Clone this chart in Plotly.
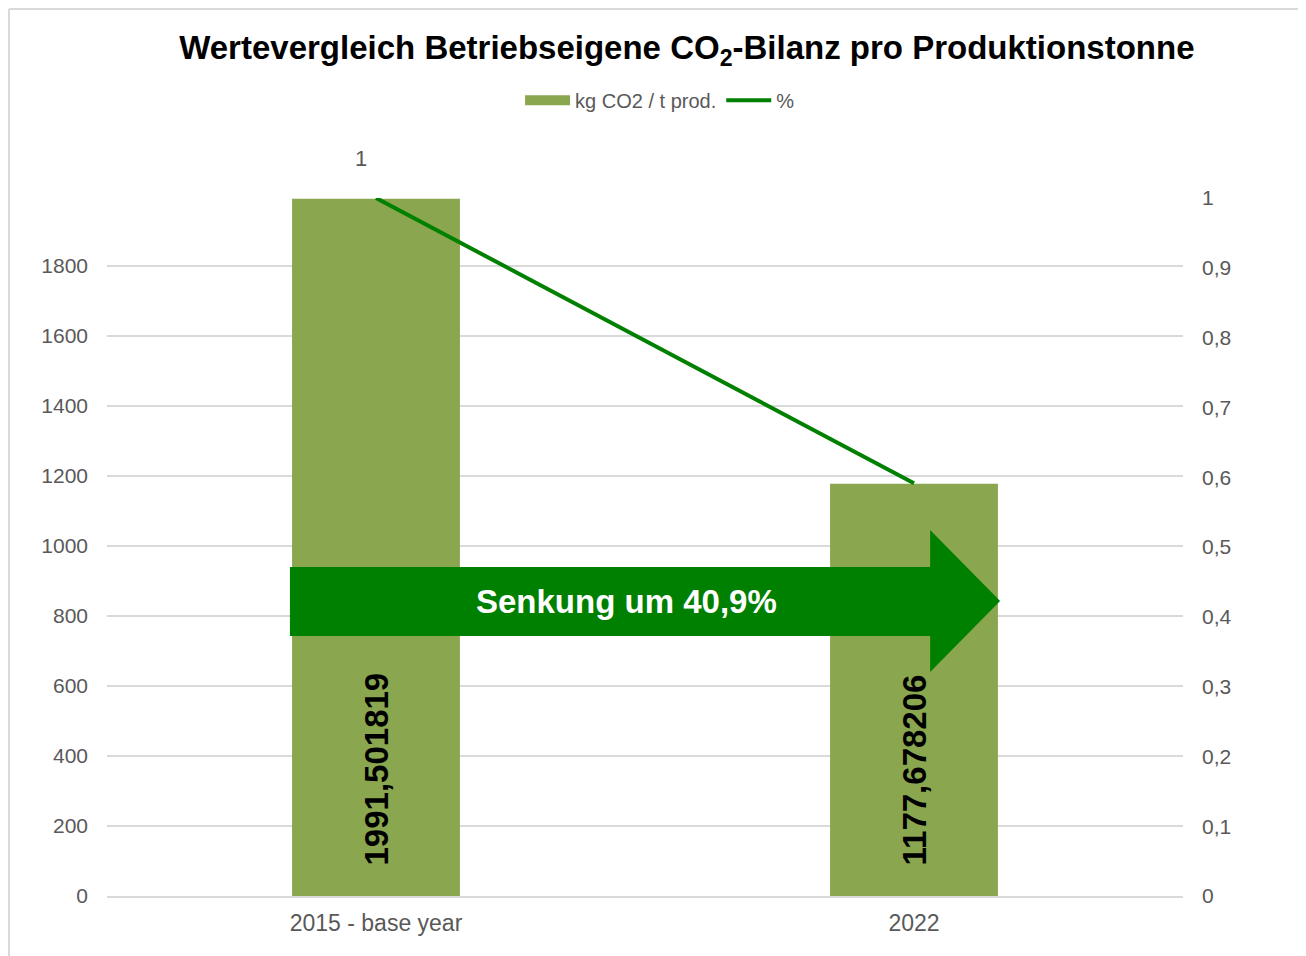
import plotly.graph_objects as go

# ---- data ----
categories = ["2015 - base year", "2022"]
kg_co2 = [1991.501819, 1177.678206]
pct = [1, 0.59135181]
y_ticks = [0, 200, 400, 600, 800, 1000, 1200, 1400, 1600, 1800]
y2_ticks = [0, 0.1, 0.2, 0.3, 0.4, 0.5, 0.6, 0.7, 0.8, 0.9, 1]
arrow_text = "Senkung um 40,9%"
title_text = "Wertevergleich Betriebseigene CO<sub>2</sub>-Bilanz pro Produktionstonne"
bar_name = "kg CO2 / t prod."
line_name = "%"

BAR_COLOR = "#8aa64e"
LINE_COLOR = "#008000"
GREY = "#595959"
FONT = "Liberation Sans, Arial, sans-serif"

def de(v):
    s = repr(v) if not float(v).is_integer() else str(int(v))
    return s.replace(".", ",")

fig = go.Figure()
fig.add_trace(go.Bar(
    x=categories, y=kg_co2, name=bar_name, showlegend=False, legendgroup="bar",
    marker=dict(color=BAR_COLOR, line=dict(width=0)),
    text=["&nbsp;&nbsp;&nbsp;<b>" + de(v) + "</b>" for v in kg_co2],
    textposition="inside", insidetextanchor="start",
    textangle=-90, textfont=dict(family=FONT, size=33, color="black"),
))
# legend entry for the bars (wide swatch as in the reference)
fig.add_trace(go.Scatter(
    x=[categories[0]], y=[None], name=bar_name, legendgroup="bar", mode="lines",
    line=dict(color=BAR_COLOR, width=12), hoverinfo="skip",
))
fig.add_trace(go.Scatter(
    x=categories, y=pct, name=line_name, yaxis="y2", mode="lines",
    line=dict(color=LINE_COLOR, width=4),
))

# line data labels
label_shift = [(-15, 40), (58, 40)]
for c, v, (dx, dy) in zip(categories, pct, label_shift):
    fig.add_annotation(x=c, y=v, yref="y2", text=de(v), showarrow=False,
                       xshift=dx, yshift=dy, font=dict(family=FONT, size=22, color=GREY))

# arrow shape (paper coords)
x0, xh, xt = 0.170, 0.765, 0.830
yb0, yb1, yh0, yh1, ym = 0.3725, 0.4713, 0.3209, 0.5244, 0.4226
path = (f"M {x0} {yb0} L {xh} {yb0} L {xh} {yh0} L {xt} {ym} L {xh} {yh1} "
        f"L {xh} {yb1} L {x0} {yb1} Z")
fig.add_shape(type="path", path=path, xref="paper", yref="paper",
              fillcolor=LINE_COLOR, line=dict(width=0), layer="above")
fig.add_annotation(x=0.483, y=ym, xref="paper", yref="paper", text=f"<b>{arrow_text}</b>",
                   showarrow=False, font=dict(family=FONT, size=33, color="white"))

# outer light border (left and top)
fig.add_shape(type="line", xref="paper", yref="paper", x0=-0.0911, x1=-0.0911,
              y0=-0.1, y1=1.2708, line=dict(color="#d9d9d9", width=2))
fig.add_shape(type="line", xref="paper", yref="paper", x0=-0.0911, x1=1.2,
              y0=1.2708, y1=1.2708, line=dict(color="#d9d9d9", width=2))

fig.update_layout(
    width=1298, height=948,
    margin=dict(l=99, r=123, t=190, b=60),
    paper_bgcolor="white", plot_bgcolor="white",
    separators=",.",
    font=dict(family=FONT, color=GREY, size=21),
    title=dict(text=f"<b>{title_text}</b>", x=0.523, xanchor="center", y=0.958, yanchor="middle",
               font=dict(family=FONT, size=33, color="black")),
    showlegend=True,
    legend=dict(orientation="h", x=0.514, xanchor="center", y=1.14, yanchor="middle",
                font=dict(family=FONT, size=20, color=GREY), traceorder="normal",
                itemwidth=45),
    bargap=0.688,
    xaxis=dict(type="category", categoryarray=categories, categoryorder="array",
               range=[-0.5, len(categories) - 0.5],
               showgrid=False, showline=True, linecolor="#d9d9d9", linewidth=2,
               ticks="", ticklabelstandoff=5, tickfont=dict(size=23, color=GREY)),
    yaxis=dict(range=[0, 1994], tickvals=y_ticks, showgrid=True, gridcolor="#d9d9d9",
               gridwidth=1.5, zeroline=False, showline=False, ticks="", ticklabelstandoff=18,
               tickfont=dict(size=21, color=GREY)),
    yaxis2=dict(range=[0, 1], overlaying="y", side="right", tickvals=y2_ticks,
                ticktext=[de(v) for v in y2_ticks], showgrid=False, zeroline=False,
                showline=False, ticks="", ticklabelstandoff=18,
                tickfont=dict(size=21, color=GREY)),
)

fig.write_html("out.html")
